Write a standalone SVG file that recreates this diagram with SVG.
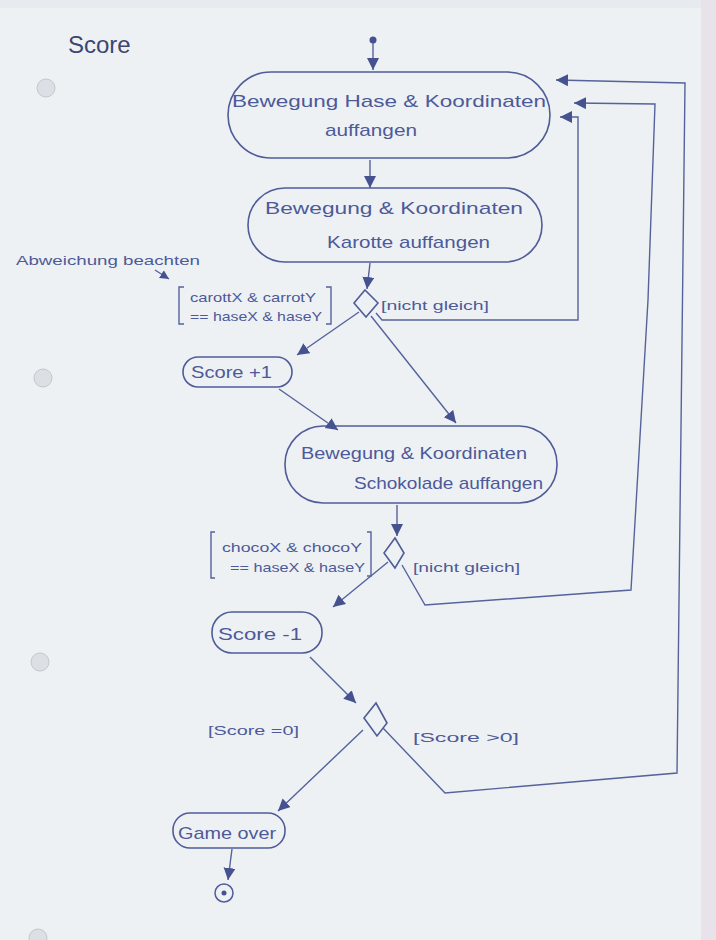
<svg xmlns="http://www.w3.org/2000/svg" width="716" height="940" viewBox="0 0 716 940">
<style>
.node{fill:none;stroke:#4f5c98;stroke-width:1.6}
.conn{fill:none;stroke:#55629c;stroke-width:1.4}
.t{font-family:"Liberation Sans","DejaVu Sans",sans-serif;fill:#4d5a98;font-size:17px}
.g{font-family:"Liberation Sans","DejaVu Sans",sans-serif;fill:#4d5a98;font-size:13px}
.hole{fill:#dcdfe3;stroke:#c3c7cd;stroke-width:1}
</style>
<defs>
<marker id="ah" markerUnits="userSpaceOnUse" markerWidth="14" markerHeight="14" refX="12" refY="6" orient="auto">
<path d="M0,0 L12,6 L0,12 Z" fill="#45528f"/>
</marker>
<marker id="ahs" markerUnits="userSpaceOnUse" markerWidth="10" markerHeight="10" refX="9" refY="4.5" orient="auto">
<path d="M0,0 L9,4.5 L0,9 Z" fill="#45528f"/>
</marker>
</defs>
<rect width="716" height="940" fill="#eef1f4"/>
<rect x="0" y="0" width="716" height="8" fill="#e7eaee"/>
<rect x="701" y="0" width="15" height="940" fill="#e8e3ea"/>
<circle class="hole" cx="46" cy="88" r="9"/>
<circle class="hole" cx="43" cy="378" r="9"/>
<circle class="hole" cx="40" cy="662" r="9"/>
<circle class="hole" cx="38" cy="938" r="9"/>

<text x="68" y="53" font-family="Liberation Sans, DejaVu Sans, sans-serif" font-size="24" fill="#3c4670">Score</text>

<g id="start"><circle cx="373" cy="40" r="3.5" fill="#45528f"/></g>

<g id="node1">
<rect class="node" x="228" y="72" width="322" height="86" rx="43"/>
<text class="t" x="232" y="107" textLength="314" lengthAdjust="spacingAndGlyphs">Bewegung Hase &amp; Koordinaten</text>
<text class="t" x="325" y="136" textLength="92" lengthAdjust="spacingAndGlyphs">auffangen</text>
</g>

<g id="node2">
<rect class="node" x="248" y="188" width="294" height="74" rx="37"/>
<text class="t" x="265" y="214" textLength="258" lengthAdjust="spacingAndGlyphs">Bewegung &amp; Koordinaten</text>
<text class="t" x="327" y="248" textLength="163" lengthAdjust="spacingAndGlyphs">Karotte auffangen</text>
</g>

<g id="decision1">
<polygon class="node" points="365,290 378,303 366,317 354,303"/>
</g>

<g id="score_plus">
<rect class="node" x="183" y="357" width="109" height="30" rx="15"/>
<text class="t" x="191" y="378" textLength="81" lengthAdjust="spacingAndGlyphs">Score +1</text>
</g>

<g id="node3">
<rect class="node" x="285" y="426" width="272" height="77" rx="38"/>
<text class="t" x="301" y="459" textLength="226" lengthAdjust="spacingAndGlyphs">Bewegung &amp; Koordinaten</text>
<text class="t" x="354" y="489" textLength="189" lengthAdjust="spacingAndGlyphs">Schokolade auffangen</text>
</g>

<g id="decision2">
<polygon class="node" points="395,538 404,553 395,568 384,553"/>
</g>

<g id="score_minus">
<rect class="node" x="212" y="612" width="110" height="41" rx="20"/>
<text class="t" x="218" y="640" textLength="84" lengthAdjust="spacingAndGlyphs">Score -1</text>
</g>

<g id="decision3">
<polygon class="node" points="376,703 387,723 377,736 364,718"/>
</g>

<g id="game_over">
<rect class="node" x="173" y="813" width="112" height="35" rx="17"/>
<text class="t" x="178" y="839" textLength="98" lengthAdjust="spacingAndGlyphs">Game over</text>
</g>

<g id="end">
<circle cx="224" cy="893" r="9" fill="none" stroke="#4f5c98" stroke-width="1.5"/>
<circle cx="224" cy="893" r="2.5" fill="#45528f"/>
</g>

<g id="labels">
<text class="g" x="16" y="265" textLength="184" lengthAdjust="spacingAndGlyphs">Abweichung beachten</text>
<path class="conn" d="M184,287 L179,287 L179,324 L184,324 M326,287 L331,287 L331,324 L326,324"/>
<text class="g" x="190" y="302" textLength="126" lengthAdjust="spacingAndGlyphs">carottX &amp; carrotY</text>
<text class="g" x="190" y="321" textLength="132" lengthAdjust="spacingAndGlyphs">== haseX &amp; haseY</text>
<text class="g" x="381" y="310" textLength="108" lengthAdjust="spacingAndGlyphs">[nicht gleich]</text>
<path class="conn" d="M215,532 L211,532 L211,578 L215,578 M367,532 L371,532 L371,576 L367,576"/>
<text class="g" x="222" y="552" textLength="140" lengthAdjust="spacingAndGlyphs">chocoX &amp; chocoY</text>
<text class="g" x="230" y="572" textLength="135" lengthAdjust="spacingAndGlyphs">== haseX &amp; haseY</text>
<text class="g" x="413" y="572" textLength="107" lengthAdjust="spacingAndGlyphs">[nicht gleich]</text>
<text class="g" x="208" y="735" textLength="91" lengthAdjust="spacingAndGlyphs">[Score =0]</text>
<text class="g" x="413" y="742" textLength="106" lengthAdjust="spacingAndGlyphs">[Score &gt;0]</text>
</g>

<g id="connectors">
<line class="conn" x1="373" y1="43" x2="373" y2="70" marker-end="url(#ah)"/>
<line class="conn" x1="370" y1="160" x2="370" y2="188" marker-end="url(#ah)"/>
<line class="conn" x1="370" y1="263" x2="367" y2="289" marker-end="url(#ah)"/>
<line class="conn" x1="359" y1="312" x2="297" y2="355" marker-end="url(#ah)"/>
<line class="conn" x1="371" y1="316" x2="456" y2="423" marker-end="url(#ah)"/>
<line class="conn" x1="279" y1="389" x2="338" y2="430" marker-end="url(#ah)"/>
<path class="conn" d="M376,313 L382,320 L578,320 L578,117 L560,117" marker-end="url(#ah)"/>
<line class="conn" x1="397" y1="505" x2="397" y2="536" marker-end="url(#ah)"/>
<line class="conn" x1="388" y1="562" x2="333" y2="607" marker-end="url(#ah)"/>
<path class="conn" d="M402,565 L425,605 L631,590 L648,300 L655,104 L574,103" marker-end="url(#ah)"/>
<line class="conn" x1="310" y1="657" x2="356" y2="703" marker-end="url(#ah)"/>
<line class="conn" x1="363" y1="730" x2="278" y2="811" marker-end="url(#ah)"/>
<path class="conn" d="M383,728 L445,793 L677,773 L685,83 L556,80" marker-end="url(#ah)"/>
<line class="conn" x1="232" y1="849" x2="228" y2="880" marker-end="url(#ah)"/>
<line class="conn" x1="155" y1="270" x2="169" y2="279" marker-end="url(#ahs)"/>
</g>
</svg>
